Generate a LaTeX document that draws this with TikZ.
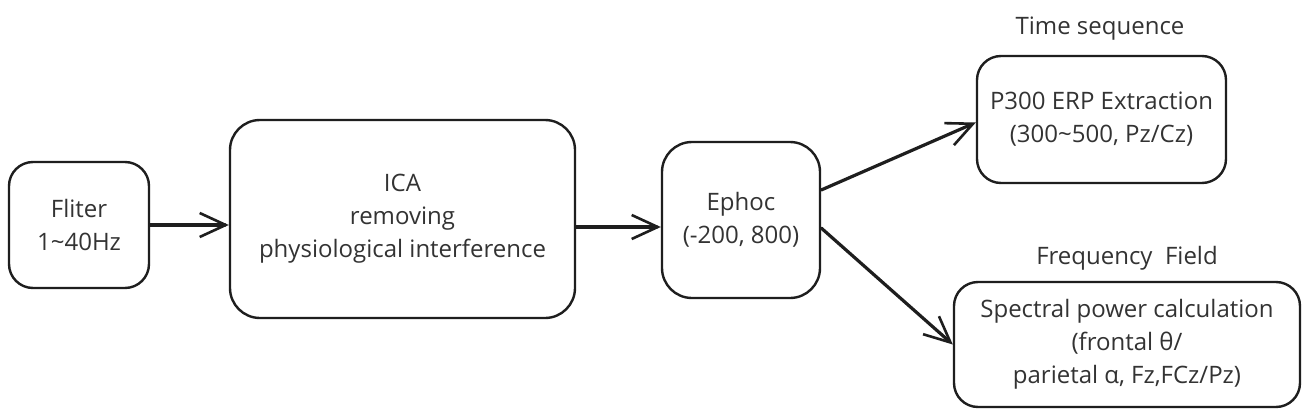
\documentclass[tikz,border=0pt]{standalone}
\usepackage{fontspec}
\setmainfont{Open Sans}
\usetikzlibrary{arrows.meta}
\definecolor{ink}{HTML}{1E1E1E}
\definecolor{txt}{HTML}{333333}
\tikzset{
  box/.style={draw=ink, line width=2.4pt, rounded corners=24pt, align=center,
    text=txt, font=\fontsize{24}{33}\selectfont, inner sep=0pt},
  lbl/.style={text=txt, font=\fontsize{24}{28}\selectfont, inner sep=0pt},
  conn/.style={draw=ink, line width=3.2pt, line cap=round,
    -{Straight Barb[length=26pt, width=24pt, line width=2.6pt]}},
}
\begin{document}
\begin{tikzpicture}[x=1pt, y=-1pt]
\useasboundingbox[fill=white] (0,0) rectangle (1302,415);
\node[box, minimum width=140pt, minimum height=126pt] (fl) at (79,225) {Fliter\\1\textasciitilde40Hz};
\node[box, minimum width=345pt, minimum height=198pt, rounded corners=30pt] (ica) at (402.5,219) {ICA\\removing\\physiological interference};
\node[box, minimum width=158pt, minimum height=156pt, rounded corners=30pt] (ep) at (741,220) {Ephoc\\(-200, 800)};
\node[box, minimum width=249pt, minimum height=127pt] (p3) at (1101.5,119.5) {P300 ERP Extraction\\(300\textasciitilde500, Pz/Cz)};
\node[box, minimum width=346pt, minimum height=125pt] (sp) at (1127,344.5) {Spectral power calculation\\(frontal θ/\\parietal α, Fz,FCz/Pz)};
\node[lbl] (ts) at (1100,29) {Time sequence};
\node[lbl] (ff) at (1127,258) {Frequency\ \ Field};
\draw[conn, line width=4pt] (fl.east) -- (fl.east -| ica.west);
\draw[conn] ([yshift=-8pt]ica.east) -- ([yshift=-8pt]ica.east -| ep.west);
\draw[conn] ([yshift=30pt]ep.east) -- ([yshift=-3pt]p3.west);
\draw[conn] ([yshift=-8pt]ep.east) -- (sp.west);
\end{tikzpicture}
\end{document}
